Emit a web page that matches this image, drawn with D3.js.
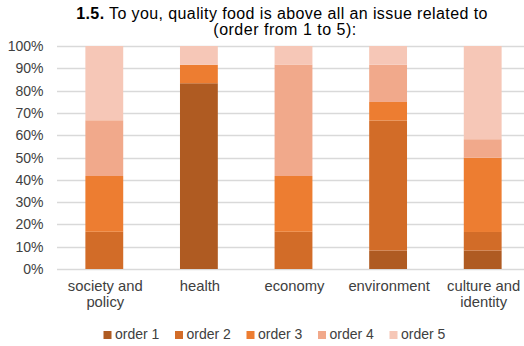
<!DOCTYPE html>
<html>
<head>
<meta charset="utf-8">
<script src="https://cdn.jsdelivr.net/npm/d3@7"></script>
<style>
  body { margin: 0; background: #fff; }
  svg { font-family: "Liberation Sans", Arial, sans-serif; }
</style>
</head>
<body>
<div id="chart"></div>
<script>
// Data
const categories = ["society and policy", "health", "economy", "environment", "culture and identity"];
const categoryLines = [["society and", "policy"], ["health"], ["economy"], ["environment"], ["culture and", "identity"]];
const seriesNames = ["order 1", "order 2", "order 3", "order 4", "order 5"];
const order1 = [0, 83.3, 0, 8.3, 8.3];
const order2 = [16.7, 0, 16.7, 58.3, 8.3];
const order3 = [25, 8.3, 25, 8.3, 33.3];
const order4 = [25, 0, 50, 16.7, 8.3];
const order5 = [33.3, 8.4, 8.3, 8.4, 41.8];
const yTicks = [0, 10, 20, 30, 40, 50, 60, 70, 80, 90, 100];

const colors = ["#AF5B22", "#D26C28", "#ED7D31", "#F1A98B", "#F6C7B7"];

const width = 524, height = 346;
const svg = d3.select("#chart").append("svg")
    .attr("width", width)
    .attr("height", height);

const x = d3.scaleBand()
    .domain(categories)
    .range([57, 530])
    .paddingInner(0.6)
    .paddingOuter(0.3);

const y = d3.scaleLinear()
    .domain([0, 100])
    .range([269, 46]);

// Title
const title = svg.append("text")
    .attr("x", 282)
    .attr("y", 18.5)
    .attr("text-anchor", "middle")
    .attr("fill", "#000")
    .style("font-size", "16px")
    .style("letter-spacing", "0.4px");
title.append("tspan").style("font-weight", "700").text("1.5.");
title.append("tspan").text(" To you, quality food is above all an issue related to");
svg.append("text")
    .attr("x", 285)
    .attr("y", 34.5)
    .attr("text-anchor", "middle")
    .attr("fill", "#000")
    .style("font-size", "16px")
    .style("letter-spacing", "0.5px")
    .text("(order from 1 to 5):");

// Gridlines
svg.append("g")
    .selectAll("line")
    .data(yTicks)
    .join("line")
    .attr("x1", 57)
    .attr("x2", 524)
    .attr("y1", d => Math.round(y(d)) + 0.5)
    .attr("y2", d => Math.round(y(d)) + 0.5)
    .attr("stroke", "#D9D9D9")
    .attr("stroke-width", 1.3);

// Y labels
svg.append("g")
    .selectAll("text")
    .data(yTicks)
    .join("text")
    .attr("x", 43.5)
    .attr("y", d => y(d) + 5)
    .attr("text-anchor", "end")
    .attr("fill", "#404040")
    .style("font-size", "14px")
    .text(d => d + "%");

// Stacked bars
const table = categories.map((c, i) => ({
    category: c,
    "order 1": order1[i],
    "order 2": order2[i],
    "order 3": order3[i],
    "order 4": order4[i],
    "order 5": order5[i]
}));
const stacked = d3.stack().keys(seriesNames)(table);

svg.append("g")
    .selectAll("g")
    .data(stacked)
    .join("g")
    .attr("fill", (d, i) => colors[i])
    .selectAll("rect")
    .data(d => d)
    .join("rect")
    .attr("x", d => x(d.data.category))
    .attr("width", x.bandwidth())
    .attr("y", d => y(Math.min(d[1], 100)))
    .attr("height", d => y(d[0]) - y(Math.min(d[1], 100)));

// X labels
const xl = svg.append("g")
    .selectAll("text")
    .data(categories)
    .join("text")
    .attr("text-anchor", "middle")
    .attr("fill", "#404040")
    .style("font-size", "14.8px");
xl.selectAll("tspan")
    .data((d, i) => categoryLines[i].map(line => ({ line, c: d })))
    .join("tspan")
    .attr("x", d => x(d.c) + x.bandwidth() / 2 + 1)
    .attr("y", (d, j) => 290.5 + j * 16.5)
    .text(d => d.line);

// Legend
const legend = svg.append("g")
    .selectAll("g")
    .data(seriesNames)
    .join("g")
    .attr("transform", (d, i) => `translate(${103.5 + i * 71.5},339)`);
legend.append("rect")
    .attr("x", 0)
    .attr("y", -8)
    .attr("width", 8)
    .attr("height", 8)
    .attr("fill", (d, i) => colors[i]);
legend.append("text")
    .attr("x", 11.5)
    .attr("y", 0)
    .attr("fill", "#404040")
    .style("font-size", "14px")
    .text(d => d);
</script>
</body>
</html>
